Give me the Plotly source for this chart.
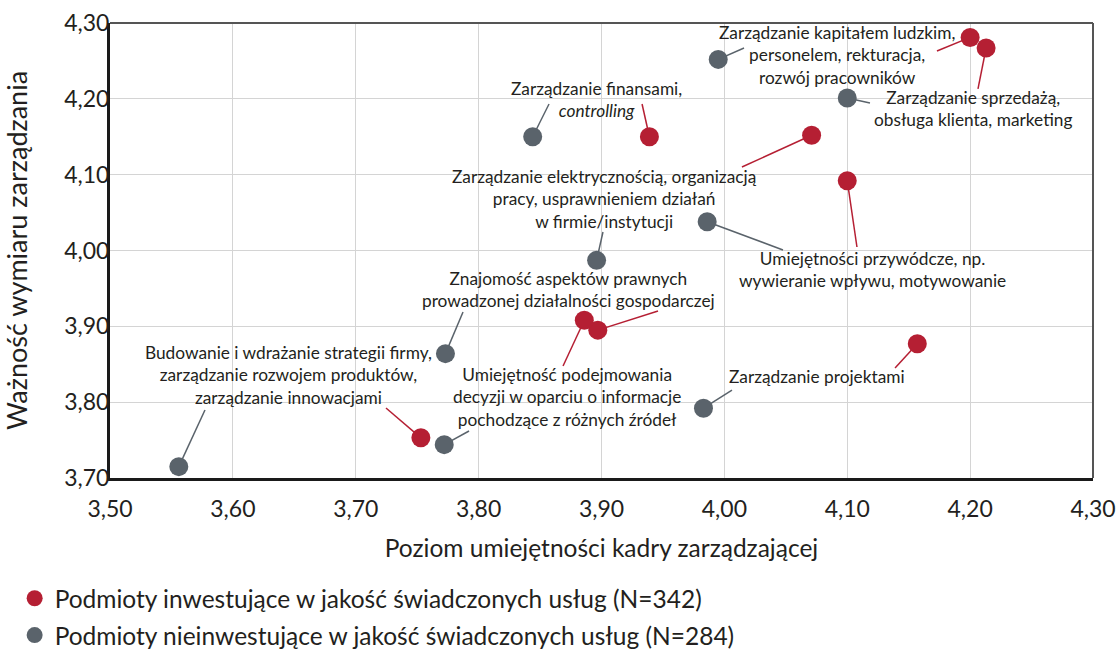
import plotly.graph_objects as go

# Management dimensions (one label per pair of points)
categories = [
    "Zarządzanie kapitałem ludzkim,<br>personelem, rekturacja,<br>rozwój pracowników",
    "Zarządzanie sprzedażą,<br>obsługa klienta, marketing",
    "Zarządzanie finansami,<br><i>controlling</i>",
    "Zarządzanie elektrycznością, organizacją<br>pracy, usprawnieniem działań<br>w firmie/instytucji",
    "Umiejętności przywódcze, np.<br>wywieranie wpływu, motywowanie",
    "Znajomość aspektów prawnych<br>prowadzonej działalności gospodarczej",
    "Umiejętność podejmowania<br>decyzji w oparciu o informacje<br>pochodzące z różnych źródeł",
    "Zarządzanie projektami",
    "Budowanie i wdrażanie strategii firmy,<br>zarządzanie rozwojem produktów,<br>zarządzanie innowacjami",
]

# Entities investing in service quality (N=342)
inv_skill = [4.200, 4.213, 3.939, 4.071, 4.100, 3.897, 3.886, 4.157, 3.753]
inv_importance = [4.281, 4.267, 4.150, 4.152, 4.092, 3.895, 3.908, 3.877, 3.753]

# Entities not investing in service quality (N=284)
non_skill = [3.995, 4.100, 3.844, 3.896, 3.986, 3.773, 3.772, 3.983, 3.556]
non_importance = [4.252, 4.201, 4.150, 3.987, 4.038, 3.864, 3.744, 3.792, 3.715]

series_names = [
    "Podmioty inwestujące w jakość świadczonych usług (N=342)",
    "Podmioty nieinwestujące w jakość świadczonych usług (N=284)",
]

x_ticks = [3.5, 3.6, 3.7, 3.8, 3.9, 4.0, 4.1, 4.2, 4.3]
y_ticks = [3.7, 3.8, 3.9, 4.0, 4.1, 4.2, 4.3]

# Label placement: text centre, then where each leader line leaves the label
label_pos = [
    (4.0917, 4.2578), (4.2023, 4.1866), (3.8963, 4.1989),
    (3.9028, 4.0679), (4.1209, 3.9743), (3.8735, 3.9492),
    (3.8719, 3.8068), (4.0754, 3.8332), (3.6449, 3.8358),
]
inv_leader = [
    (4.1730, 4.2631), (4.2064, 4.2130), (3.9330, 4.1932),
    (4.0143, 4.1101), (4.1079, 4.0046), (3.9460, 3.9202),
    (3.8687, 3.8477), (4.1389, 3.8451), (3.7246, 3.7923),
]
non_leader = [
    (4.0160, 4.2671), (4.1185, 4.1945), (3.8573, 4.1932),
    (3.9012, 4.0244), (4.0477, 4.0007), (3.7873, 3.9189),
    (3.7922, 3.7620), (4.0062, 3.8160), (3.5773, 3.7897),
]

RED = "#b51f33"
GREY = "#5a636b"
TEXT = "#231f20"
FONT = "Lato"

fig = go.Figure()
fig.add_trace(go.Scatter(
    x=inv_skill, y=inv_importance, mode="markers", name=series_names[0],
    legendgroup="inv",
    marker=dict(color=RED, size=19, line=dict(width=0)),
    cliponaxis=False, hoverinfo="skip",
))
fig.add_trace(go.Scatter(
    x=non_skill, y=non_importance, mode="markers", name=series_names[1],
    legendgroup="non",
    marker=dict(color=GREY, size=19, line=dict(width=0)),
    cliponaxis=False, hoverinfo="skip",
))

shapes = []
for i in range(len(categories)):
    lx, ly = inv_leader[i]
    shapes.append(dict(type="line", xref="x", yref="y", layer="between",
                       x0=lx, y0=ly, x1=inv_skill[i], y1=inv_importance[i],
                       line=dict(color=RED, width=1.5)))
    lx, ly = non_leader[i]
    shapes.append(dict(type="line", xref="x", yref="y", layer="between",
                       x0=lx, y0=ly, x1=non_skill[i], y1=non_importance[i],
                       line=dict(color=GREY, width=1.5)))

# thin frame on top and right
shapes.append(dict(type="line", xref="paper", yref="paper", x0=0, x1=1, y0=1, y1=1,
                   line=dict(color="#555555", width=2), layer="above"))
shapes.append(dict(type="line", xref="paper", yref="paper", x0=1, x1=1, y0=0, y1=1,
                   line=dict(color="#555555", width=2), layer="above"))

annotations = []
for i, txt in enumerate(categories):
    cx, cy = label_pos[i]
    annotations.append(dict(
        x=cx, y=cy, xref="x", yref="y", text=txt, showarrow=False,
        xanchor="center", yanchor="middle", align="center",
        font=dict(family=FONT, size=17.3, color=TEXT),
    ))

fig.update_layout(
    width=1118, height=650,
    margin=dict(l=110, r=25, t=23, b=172, autoexpand=False),
    paper_bgcolor="white", plot_bgcolor="white",
    separators=", ",
    font=dict(family=FONT, color=TEXT),
    shapes=shapes,
    annotations=annotations,
    showlegend=True,
    legend=dict(
        x=-0.097, y=-0.215, xanchor="left", yanchor="top",
        orientation="v", font=dict(family=FONT, size=24.5, color=TEXT),
        tracegroupgap=2, itemwidth=30, bgcolor="rgba(0,0,0,0)",
    ),
    xaxis=dict(
        range=[3.5, 4.3], tickvals=x_ticks, tickformat=".2f",
        showgrid=True, gridcolor="#d4d4d4", gridwidth=1,
        showline=True, linecolor="#1a1a1a", linewidth=3,
        zeroline=False, ticks="", ticklabelstandoff=8,
        tickfont=dict(family=FONT, size=23, color=TEXT),
        title=dict(text="Poziom umiejętności kadry zarządzającej",
                   font=dict(family=FONT, size=24.5, color=TEXT), standoff=20),
    ),
    yaxis=dict(
        range=[3.7, 4.3], tickvals=y_ticks, tickformat=".2f",
        showgrid=True, gridcolor="#d4d4d4", gridwidth=1,
        showline=True, linecolor="#1a1a1a", linewidth=3,
        zeroline=False, ticks="", ticklabelstandoff=-7,
        tickfont=dict(family=FONT, size=23, color=TEXT),
        title=dict(text="Ważność wymiaru zarządzania",
                   font=dict(family=FONT, size=27, color=TEXT), standoff=30),
    ),
)

fig.write_html("out.html")
